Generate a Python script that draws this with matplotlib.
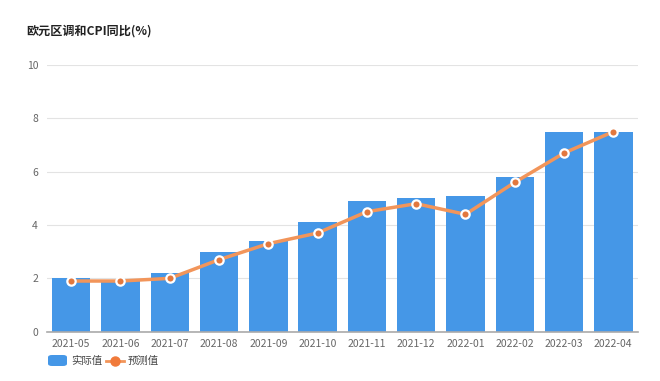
import matplotlib.pyplot as plt
from matplotlib.patches import FancyBboxPatch
from matplotlib.lines import Line2D
import numpy as np

plt.rcParams['font.family'] = ['Noto Sans CJK SC', 'DejaVu Sans']

months = ['2021-05', '2021-06', '2021-07', '2021-08', '2021-09', '2021-10',
          '2021-11', '2021-12', '2022-01', '2022-02', '2022-03', '2022-04']
actual = [2.0, 1.9, 2.2, 3.0, 3.4, 4.1, 4.9, 5.0, 5.1, 5.8, 7.5, 7.5]
forecast = [1.9, 1.9, 2.0, 2.7, 3.3, 3.7, 4.5, 4.8, 4.4, 5.6, 6.7, 7.5]
yticks = [0, 2, 4, 6, 8, 10]

bar_color = '#4597E7'
line_color = '#F2955A'
dot_color = '#E2783E'

fig = plt.figure(figsize=(6.6, 3.81), dpi=100)
ax = fig.add_axes([46.5/660, 49.3/381, (638-46.5)/660, (331.7-65)/381])

x = np.arange(len(months))
ax.bar(x, actual, width=0.78, color=bar_color, zorder=2)
ax.plot(x, forecast, color=line_color, lw=2.5, zorder=3)
ax.plot(x, forecast, ls='none', marker='o', ms=6, mfc=dot_color,
        mec='white', mew=1.6, zorder=4)

ax.set_xlim(-0.5, len(months) - 0.5)
ax.set_ylim(0, 10)
ax.set_yticks(yticks)
ax.set_xticks(x)
ax.set_xticklabels(months)
ax.tick_params(axis='both', length=0, labelsize=7.5, colors='#666666')
ax.tick_params(axis='y', pad=6)
ax.tick_params(axis='x', pad=5)
ax.grid(axis='y', color='#e3e3e3', lw=0.8, zorder=0)
for s in ['top', 'right', 'left']:
    ax.spines[s].set_visible(False)
ax.spines['bottom'].set_color('#aaaaaa')
ax.spines['bottom'].set_linewidth(1.2)

fig.text(26/660, 1 - 31/381, '欧元区调和CPI同比(%)', fontsize=8.7, fontweight='bold',
         color='#222222', va='center', ha='left')

# legend
ly = 1 - 361/381
rect = FancyBboxPatch((48/660, 1 - 366/381), 19/660, 11/381,
                      boxstyle='round,pad=0,rounding_size=0.006',
                      transform=fig.transFigure, color=bar_color, lw=0)
fig.patches.append(rect)
fig.text(71/660, ly, '实际值', fontsize=7.5, color='#444444', va='center')
fig.lines.append(Line2D([106/660, 124/660], [ly, ly], transform=fig.transFigure,
                        color=line_color, lw=2))
fig.lines.append(Line2D([115/660], [ly], transform=fig.transFigure, marker='o',
                        ms=6.5, mfc='#F07A3A', mec='#F07A3A', ls='none'))
fig.text(128/660, ly, '预测值', fontsize=7.5, color='#444444', va='center')

fig.savefig('out.png', dpi=100)
